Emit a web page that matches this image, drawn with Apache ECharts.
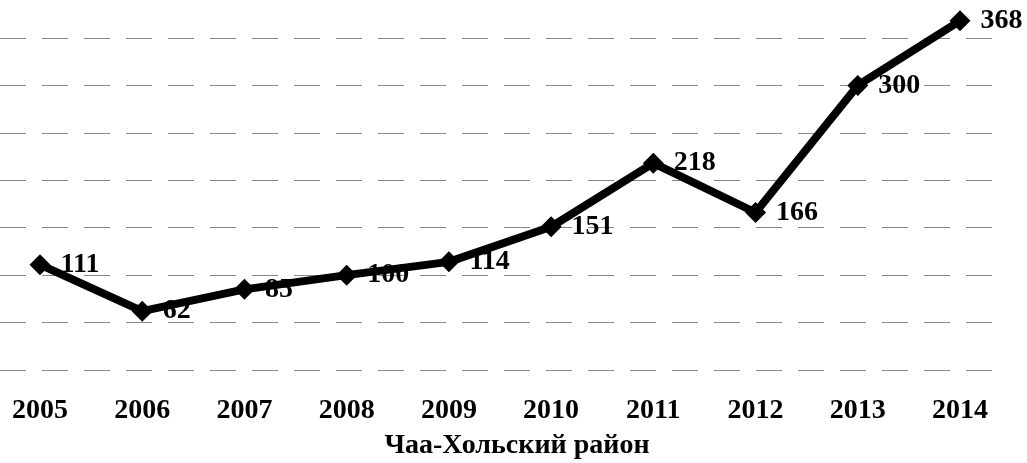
<!DOCTYPE html>
<html>
<head>
<meta charset="utf-8">
<script src="https://cdn.jsdelivr.net/npm/echarts@6/dist/echarts.min.js"></script>
<style>
  html, body { margin: 0; padding: 0; background: #fff; }
  #chart { width: 1027px; height: 463px; }
</style>
</head>
<body>
<div id="chart"></div>
<script>
const years = ["2005", "2006", "2007", "2008", "2009", "2010", "2011", "2012", "2013", "2014"];
const values = [111, 62, 85, 100, 114, 151, 218, 166, 300, 368];
const chartTitle = "Чаа-Хольский район";

const font = '"Liberation Serif", "DejaVu Serif", serif';
const chart = echarts.init(document.getElementById("chart"));

chart.setOption({
  backgroundColor: "#fff",
  animation: false,
  title: {
    text: chartTitle,
    left: 512,
    textAlign: "center",
    top: 427,
    textStyle: { fontFamily: font, fontWeight: "bold", fontSize: 28, color: "#000" }
  },
  // grid 0 is only for the wide gridlines, grid 1 holds the line
  grid: [
    { left: 0, right: 25, top: 0, height: 370 },
    { left: 40, right: 67, top: 0, height: 370 }
  ],
  xAxis: [
    { gridIndex: 0, type: "category", data: years, show: false },
    {
      gridIndex: 1,
      type: "category",
      data: years,
      boundaryGap: false,
      axisLine: { show: false },
      axisTick: { show: false },
      axisLabel: {
        margin: 27,
        fontFamily: font,
        fontWeight: "bold",
        fontSize: 28,
        color: "#000"
      }
    }
  ],
  yAxis: [
    {
      gridIndex: 0,
      type: "value",
      min: 0,
      max: 390,
      interval: 50,
      axisLabel: { show: false },
      axisLine: { show: false },
      axisTick: { show: false },
      splitLine: {
        showMaxLine: false,
        lineStyle: { color: "#888", width: 1, type: [26, 16] }
      }
    },
    {
      gridIndex: 1,
      type: "value",
      min: 0,
      max: 390,
      interval: 50,
      show: false,
      splitLine: { show: false }
    }
  ],
  series: [
    {
      type: "line",
      xAxisIndex: 1,
      yAxisIndex: 1,
      data: values,
      symbol: "diamond",
      symbolSize: 21,
      itemStyle: { color: "#000" },
      lineStyle: { color: "#000", width: 8 },
      label: {
        show: true,
        position: "right",
        distance: 10,
        fontFamily: font,
        fontWeight: "bold",
        fontSize: 28,
        color: "#000"
      }
    }
  ]
});
</script>
</body>
</html>
